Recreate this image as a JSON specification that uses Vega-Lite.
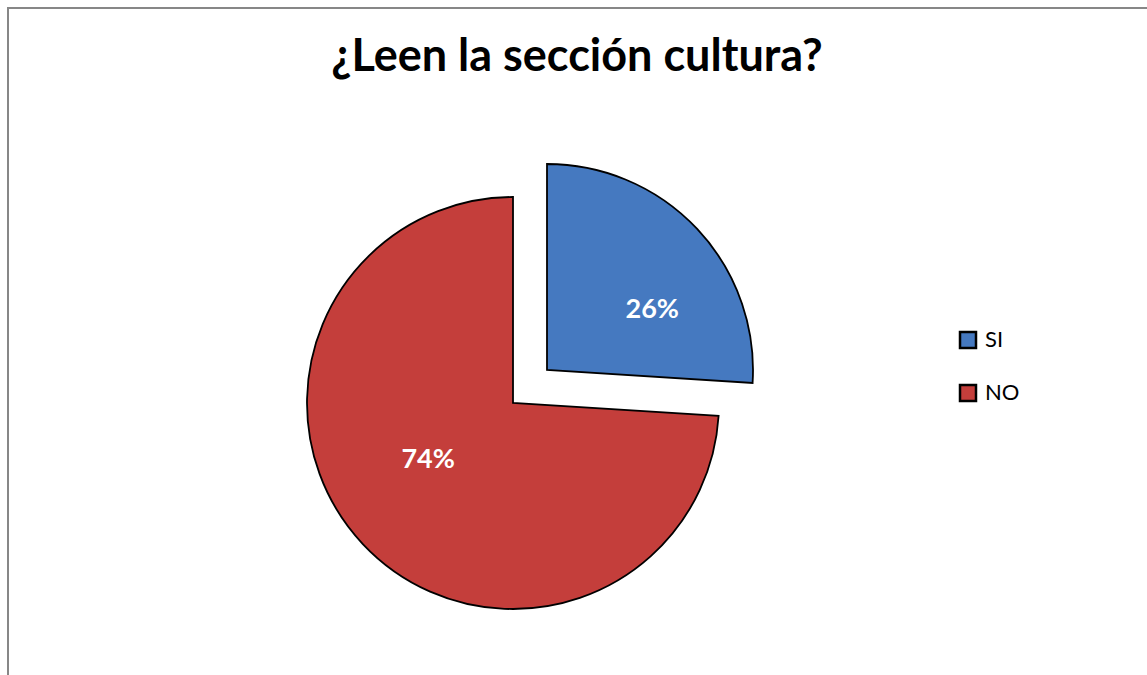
{
  "$schema": "https://vega.github.io/schema/vega-lite/v6.json",
  "width": 1160,
  "height": 680,
  "autosize": {"type": "none"},
  "padding": {"left": 8, "top": 8, "right": 0, "bottom": 0},
  "background": "white",
  "view": {"stroke": "#878787", "strokeWidth": 2, "fill": "white"},
  "title": {
    "text": "¿Leen la sección cultura?",
    "font": "Lato",
    "fontSize": 45,
    "fontWeight": "bold",
    "color": "black",
    "anchor": "middle",
    "baseline": "alphabetic",
    "offset": 0,
    "dy": 108,
    "dx": -11
  },
  "data": {
    "values": [
      {"respuesta": "SI", "porcentaje": 26, "orden": 1, "etiqueta": "26%"},
      {"respuesta": "NO", "porcentaje": 74, "orden": 2, "etiqueta": "74%"}
    ]
  },
  "transform": [
    {"stack": "porcentaje", "groupby": [], "sort": [{"field": "orden"}], "as": ["inicio", "fin"]}
  ],
  "layer": [
    {
      "transform": [{"filter": "datum.respuesta == 'NO'"}],
      "mark": {"type": "arc", "radius": 206, "x": {"expr": "width/2 - 75"}, "y": {"expr": "height/2 + 55"}, "stroke": "black", "strokeWidth": 1.8},
      "encoding": {
        "theta": {"field": "inicio", "type": "quantitative", "scale": {"domain": [0, 100]}},
        "theta2": {"field": "fin"},
        "color": {
          "field": "respuesta",
          "type": "nominal",
          "scale": {"domain": ["SI", "NO"], "range": ["#4579c0", "#c43e3b"]},
          "legend": {
            "orient": "none",
            "legendX": 949,
            "legendY": 321,
            "title": null,
            "symbolType": "square",
            "symbolSize": 256,
            "symbolStrokeColor": "black",
            "symbolStrokeWidth": 2.5,
            "symbolOpacity": 1,
            "labelFont": "Lato",
            "labelFontSize": 22,
            "labelColor": "black",
            "labelOffset": 6,
            "rowPadding": 27
          }
        }
      }
    },
    {
      "transform": [{"filter": "datum.respuesta == 'SI'"}],
      "mark": {"type": "arc", "radius": 206, "x": {"expr": "width/2 - 41"}, "y": {"expr": "height/2 + 22"}, "stroke": "black", "strokeWidth": 1.8},
      "encoding": {
        "theta": {"field": "inicio", "type": "quantitative", "scale": {"domain": [0, 100]}},
        "theta2": {"field": "fin"},
        "color": {"field": "respuesta", "type": "nominal"}
      }
    },
    {
      "mark": {"type": "text", "radius": 121, "x": {"expr": "width/2 - 41"}, "y": {"expr": "height/2 + 22"}, "dx": 17, "dy": 23, "font": "Lato", "fontSize": 27, "fontWeight": "bold", "fill": "white", "align": "center", "baseline": "middle"},
      "encoding": {
        "theta": {"field": "porcentaje", "type": "quantitative", "stack": true},
        "order": {"field": "orden"},
        "text": {"condition": {"test": "datum.respuesta == 'SI'", "field": "etiqueta"}, "value": ""}
      }
    },
    {
      "mark": {"type": "text", "radius": 100, "x": {"expr": "width/2 - 75"}, "y": {"expr": "height/2 + 55"}, "dx": -12, "dy": -11, "font": "Lato", "fontSize": 27, "fontWeight": "bold", "fill": "white", "align": "center", "baseline": "middle"},
      "encoding": {
        "theta": {"field": "porcentaje", "type": "quantitative", "stack": true},
        "order": {"field": "orden"},
        "text": {"condition": {"test": "datum.respuesta == 'NO'", "field": "etiqueta"}, "value": ""}
      }
    }
  ]
}
